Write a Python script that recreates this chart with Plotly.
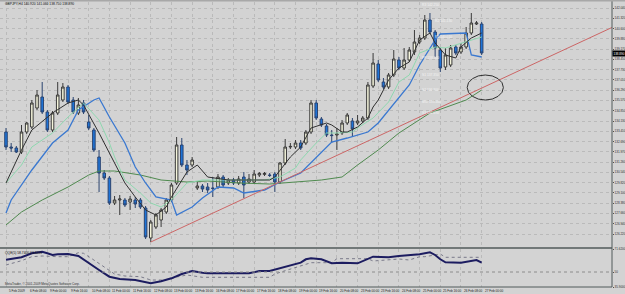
import plotly.graph_objects as go

# ---------------- data ----------------
bars = list(range(93))  # H4 candle index, 5 Feb 2009 16:00 .. 27 Feb 2009 00:00

opens = [133.36,132.31,132.24,131.96,133.36,133.71,135.04,135.81,134.76,133.5,
         134.69,135.6,136.51,135.6,134.69,135.39,134.06,133.5,131.61,130.49,
         130.14,128.39,128.6,128.6,128.46,128.6,128.6,128.04,125.94,126.71,
         127.2,127.76,128.6,129.79,132.45,131.05,131.05,129.44,129.58,129.51,
         129.44,129.51,130.21,129.79,130.0,129.79,130.21,129.86,129.86,130.35,
         130.39,130.35,130.42,129.86,131.19,132.31,132.31,132.59,132.59,133.36,
         135.39,134.27,133.78,133.15,133.15,133.29,133.99,134.13,133.99,134.13,
         134.34,136.58,138.12,136.86,136.51,137.35,138.4,137.84,138.4,138.96,
         139.66,139.94,141.2,140.36,139.1,137.91,138.05,139.31,138.96,139.31,
         140.29,140.92,140.92]
highs = [133.64,132.59,132.38,133.85,134.06,135.6,136.3,136.86,134.9,134.83,
         136.86,136.79,136.65,135.81,135.74,135.6,134.55,133.64,132.1,130.7,
         130.28,128.88,128.95,128.74,128.88,128.81,128.74,128.18,127.2,127.69,
         128.04,128.74,129.79,133.01,132.94,131.4,131.61,129.86,129.72,129.79,
         130.21,130.42,130.35,130.14,130.14,130.28,130.56,130.42,130.7,130.56,
         130.56,130.49,130.56,131.26,132.87,132.59,132.8,132.8,133.5,135.6,
         135.6,134.41,133.92,133.5,133.64,134.2,134.69,134.34,134.55,134.48,
         136.86,138.89,138.4,137.14,137.49,139.1,138.61,139.24,139.31,140.5,
         140.15,141.55,141.69,140.5,139.24,139.24,139.45,139.45,139.59,140.71,
         141.69,141.13,141.06]
lows = [132.1,131.96,131.89,131.82,133.22,133.57,134.9,134.62,133.36,133.36,
        134.55,135.46,135.32,134.62,134.55,134.62,133.5,131.96,129.16,130.0,
        128.25,128.25,127.55,128.11,127.9,128.04,127.97,125.87,125.66,126.57,
        126.71,127.62,128.46,129.65,130.91,130.35,130.91,129.3,129.16,129.09,
        128.81,129.37,129.51,129.65,129.65,129.65,128.74,129.72,129.72,130.21,
        130.28,130.21,129.16,129.72,131.05,132.17,132.17,132.1,132.45,133.22,
        134.2,133.71,133.01,132.59,132.1,133.15,133.85,133.01,133.85,133.99,
        134.2,136.44,136.86,136.37,136.37,137.21,137.7,137.7,138.26,138.75,
        139.52,139.8,140.22,138.61,137.56,137.7,137.91,138.75,138.82,139.17,
        140.15,140.85,138.75]
closes = [132.31,132.24,131.96,133.36,133.99,135.39,135.95,134.76,133.5,134.69,
          135.95,136.51,135.46,134.76,135.25,134.76,133.64,132.1,130.49,130.14,
          128.39,128.6,128.67,128.25,128.67,128.32,128.11,126.01,127.06,127.55,
          127.9,128.6,129.65,132.45,131.05,130.7,131.4,129.58,129.37,129.3,
          129.41,130.21,129.65,130.0,129.79,130.07,129.65,130.07,130.42,130.46,
          130.46,130.32,129.86,131.19,132.31,132.35,132.59,132.24,133.36,135.39,
          134.34,133.85,133.15,133.11,133.22,133.99,134.55,133.57,134.13,134.34,
          136.65,138.19,137.0,136.51,137.35,138.47,137.84,138.4,139.1,139.66,
          139.94,141.2,140.36,139.24,137.84,138.75,139.24,138.89,139.31,140.29,
          140.99,140.99,138.89]

# moving averages (bar index, value)
black_x = [0,3,5,9,12,14,15,18,21,23,25,27,29,31,32,35,37,39,43,47,51,52,54,55,57,58,59,62,63,65,
           66,68,70,71,72,74,76,78,80,82,83,85,87,88,90,92]
black_y = [129.79,132.1,133.5,134.69,135.39,135.6,135.25,133.29,131.19,129.79,128.81,127.9,127.55,128.11,
           128.81,130.56,131.05,130.21,130.0,130.0,130.0,130.21,131.19,131.61,132.31,132.94,133.64,133.99,
           133.85,133.36,133.36,133.71,134.34,135.11,135.6,137.0,137.84,138.26,139.8,140.29,139.59,138.75,
           138.54,139.31,139.94,140.29]
mint_x = [0,3,5,9,12,14,15,18,20,21,23,26,28,30,32,35,38,44,50,53,56,57,60,62,64,67,68,71,74,76,
          78,80,83,85,89,92]
mint_y = [129.79,131.05,132.31,133.29,134.41,135.11,135.39,134.2,132.59,131.61,130.0,129.09,128.39,128.11,
          128.6,129.79,130.0,130.0,130.0,130.21,130.84,131.4,132.59,133.29,133.29,133.36,133.64,134.34,
          135.46,136.86,137.35,138.89,139.31,139.24,139.66,140.01]
blue_x = [0,1,5,9,12,14,17,18,20,23,25,27,29,32,33,36,38,41,44,46,50,53,57,59,62,63,66,68,70,72,
          76,78,80,83,84,89,90,92]
blue_y = [127.69,128.6,130.7,132.59,133.5,134.9,135.6,135.74,134.41,132.59,130.91,129.79,128.81,128.6,
          127.55,128.11,128.74,129.51,129.44,129.09,129.3,129.86,130.49,131.19,132.31,132.66,132.94,
          133.15,133.36,133.99,135.81,136.65,138.05,139.8,140.22,140.29,138.75,138.61]
dgreen_x = [0,3,7,12,16,18,21,26,30,35,39,45,51,57,61,65,68,72,76,82,89,92]
dgreen_y = [126.85,127.76,128.6,129.51,130.35,130.63,130.63,130.35,130.0,129.86,129.93,129.79,129.72,
            129.86,130.0,130.21,131.05,132.1,133.29,134.69,135.6,136.3]

# QQE sub-window
qqe_x = [0,3,5,7,8,9,10,12,14,15,16,18,20,22,25,27,28,30,32,34,36,38,39,47,49,51,53,55,57,58,
         59,61,63,65,68,71,74,76,80,82,83,84,85,88,90,91,92]
qqe_v = [61.56,63.82,67.58,69.08,67.58,66.0,66.64,66.92,65.04,61.94,58.46,51.88,45.58,43.42,42.48,
         40.32,39.38,41.26,44.08,48.12,50.94,49.34,48.78,48.78,50.94,50.94,53.48,56.58,58.74,61.94,
         62.88,61.94,58.18,58.74,58.18,64.38,63.82,65.04,66.64,68.52,66.0,61.94,59.12,58.74,60.62,
         61.28,58.74]
qqs_x = [0,3,5,7,10,12,14,15,17,19,21,23,26,28,30,32,33,35,38,51,52,54,59,63,64,70,71,76,78,80,
         81,83,84,85,92]
qqs_v = [56.58,60.62,64.38,65.04,64.38,64.38,68.14,67.58,61.28,54.98,48.12,46.24,45.58,42.48,42.48,
         43.42,45.3,47.18,45.02,45.02,48.12,51.22,58.74,58.74,62.5,62.5,60.34,62.22,61.28,64.38,
         64.38,66.0,66.92,63.82,63.82]
qqe_level = 50

# drawn objects
trend_x = [28, 118]
trend_y = [125.66, 140.81]
ellipse_x = [89.2, 96.2]
ellipse_y = [135.6, 137.35]

piv_text = ["R3 142.250", "R2 141.130", "R1 140.010", "PP 138.540",
            "S1 137.350", "S2 136.300", "MID 135.460", "S3 134.690"]
piv_price = [142.25, 141.13, 140.01, 138.54, 137.35, 136.30, 135.46, 134.69]
piv_bar = [80, 82.5, 82.5, 80, 80, 80, 80, 80]

# axis labels
time_ticks = list(range(0, 93, 4))
time_labels = ["5 Feb 2009", "6 Feb 08:00", "9 Feb 00:00", "9 Feb 16:00", "10 Feb 08:00",
               "11 Feb 00:00", "11 Feb 16:00", "12 Feb 08:00", "13 Feb 00:00", "13 Feb 16:00",
               "16 Feb 08:00", "17 Feb 00:00", "17 Feb 16:00", "18 Feb 08:00", "19 Feb 00:00",
               "19 Feb 16:00", "20 Feb 08:00", "23 Feb 00:00", "23 Feb 16:00", "24 Feb 08:00",
               "25 Feb 00:00", "25 Feb 16:00", "26 Feb 08:00", "27 Feb 00:00"]
price_ticks = [142.04, 141.32, 140.60, 139.88, 139.17, 138.45, 137.73, 137.01, 136.29, 135.57,
               134.85, 134.13, 133.41, 132.69, 131.97, 131.26, 130.54, 129.82, 129.10, 128.38,
               127.66, 126.94, 126.22]
price_labels = ["%.3f" % v for v in price_ticks]
qqe_ticks = [71.62, 50, 35.9]
qqe_labels = ["71.6200", "50", "35.9000"]

# ---------------- styling ----------------
W, H = 625, 294
BG = "#d3d3d3"
GRID = "#bababa"
XD = 612 / W
XR = [-1.16, 117.21]
FONT = "Liberation Sans"

def py(p):  # pixel row -> paper fraction
    return (H - p) / H

fig = go.Figure()

fig.add_trace(go.Candlestick(
    x=bars, open=opens, high=highs, low=lows, close=closes,
    increasing=dict(fillcolor="#f5f5dc", line=dict(color="#3a3a3a", width=1)),
    decreasing=dict(fillcolor="#1e74d8", line=dict(color="#2b4470", width=1)),
    whiskerwidth=0, xaxis="x", yaxis="y", showlegend=False, hoverinfo="skip"))

for xs, ys, col, w in [(dgreen_x, dgreen_y, "#4f8a4f", 1),
                       (blue_x, blue_y, "#3a78d0", 1.3),
                       (mint_x, mint_y, "#8fd8b0", 1),
                       (black_x, black_y, "#303030", 1)]:
    fig.add_trace(go.Scatter(x=xs, y=ys, mode="lines", line=dict(color=col, width=w),
                             xaxis="x", yaxis="y", showlegend=False, hoverinfo="skip"))

fig.add_trace(go.Scatter(x=trend_x, y=trend_y, mode="lines", line=dict(color="#cc6666", width=1),
                         xaxis="x", yaxis="y", showlegend=False, hoverinfo="skip"))

fig.add_trace(go.Scatter(x=qqs_x, y=qqs_v, mode="lines", line=dict(color="#7a7a8a", width=1, dash="dot"),
                         xaxis="x2", yaxis="y2", showlegend=False, hoverinfo="skip"))
fig.add_trace(go.Scatter(x=qqe_x, y=qqe_v, mode="lines", line=dict(color="#1c1c60", width=2),
                         xaxis="x2", yaxis="y2", showlegend=False, hoverinfo="skip"))

axis_common = dict(range=XR, domain=[0, XD], tickvals=time_ticks, showticklabels=False,
                   showgrid=True, gridcolor=GRID, griddash="dot", gridwidth=1, zeroline=False,
                   fixedrange=True, showline=False, ticks="", automargin=False)
ytick_font = dict(size=3.0, color="#303030", family=FONT)
fig.update_layout(
    template="none",
    width=W, height=H, margin=dict(l=0, r=0, t=0, b=0, pad=0),
    paper_bgcolor=BG, plot_bgcolor=BG, showlegend=False,
    font=dict(family=FONT, size=4, color="#202020"),
    xaxis=dict(**axis_common, anchor="y", rangeslider=dict(visible=False)),
    xaxis2=dict(**axis_common, anchor="y2"),
    yaxis=dict(domain=[py(247), py(2)], range=[125.31, 142.46], side="right", anchor="x",
               tickvals=price_ticks, ticktext=price_labels, showgrid=True, gridcolor=GRID,
               griddash="dot", zeroline=False, ticks="outside", ticklen=1, tickcolor="#505050",
               tickfont=ytick_font, fixedrange=True, automargin=False),
    yaxis2=dict(domain=[py(287), py(249)], range=[qqe_ticks[2], qqe_ticks[0]], side="right",
                anchor="x2", tickvals=qqe_ticks, ticktext=qqe_labels, showgrid=False,
                zeroline=False, ticks="outside", ticklen=1, tickcolor="#505050",
                tickfont=ytick_font, fixedrange=True, automargin=False),
)

shapes = [
    dict(type="line", xref="x2", yref="y2", x0=XR[0], x1=XR[1], y0=qqe_level, y1=qqe_level,
         line=dict(color="#8c8c8c", width=1, dash="dot")),
    dict(type="circle", xref="x", yref="y", x0=ellipse_x[0], x1=ellipse_x[1],
         y0=ellipse_y[0], y1=ellipse_y[1], line=dict(color="#303030", width=1)),
    # frame lines
    dict(type="line", xref="paper", yref="paper", x0=XD, x1=XD, y0=py(287), y1=1,
         line=dict(color="#505a5a", width=1)),
    dict(type="line", xref="paper", yref="paper", x0=0, x1=XD, y0=py(248), y1=py(248),
         line=dict(color="#505a5a", width=1.5)),
    dict(type="line", xref="paper", yref="paper", x0=0, x1=XD, y0=py(287), y1=py(287),
         line=dict(color="#505a5a", width=1)),
    dict(type="rect", xref="paper", yref="paper", x0=0, x1=1, y0=py(1.5), y1=1,
         line=dict(width=0), fillcolor="#a8a8a8"),
]
fig.update_layout(shapes=shapes)

ann = []
ann.append(dict(xref="paper", yref="paper", x=0.004, y=py(4.5), xanchor="left", yanchor="middle",
                text="GBPJPY,H4 140.920 141.060 138.750 138.890", showarrow=False,
                font=dict(size=3.3, color="#101010")))
ann.append(dict(xref="paper", yref="paper", x=0.004, y=py(252.5), xanchor="left", yanchor="middle",
                text="QQE(5) 58.7400 63.8200", showarrow=False, font=dict(size=3.3, color="#101010")))
ann.append(dict(xref="paper", yref="paper", x=0.004, y=py(283.5), xanchor="left", yanchor="middle",
                text="MetaTrader, © 2001-2009 MetaQuotes Software Corp.", showarrow=False,
                font=dict(size=3.1, color="#303030")))
for t, lab in zip(time_ticks, time_labels):
    ann.append(dict(xref="x2", yref="paper", x=t, y=py(290.5), xanchor="left", yanchor="middle",
                    xshift=1, text=lab, showarrow=False, font=dict(size=3.1, color="#202020")))
for b, p, lab in zip(piv_bar, piv_price, piv_text):
    ann.append(dict(xref="x", yref="y", x=b, y=p, xanchor="left", yanchor="middle", text=lab,
                    showarrow=False, font=dict(size=3.3, color="#f4f4f4")))
ann.append(dict(xref="paper", yref="y", x=XD, y=closes[-1], xanchor="left", yanchor="middle",
                text="%.3f" % closes[-1], showarrow=False, bgcolor="#000000",
                font=dict(size=3.0, color="#ffffff"), borderpad=0.5))
fig.update_layout(annotations=ann)

fig.write_html("out.html")
